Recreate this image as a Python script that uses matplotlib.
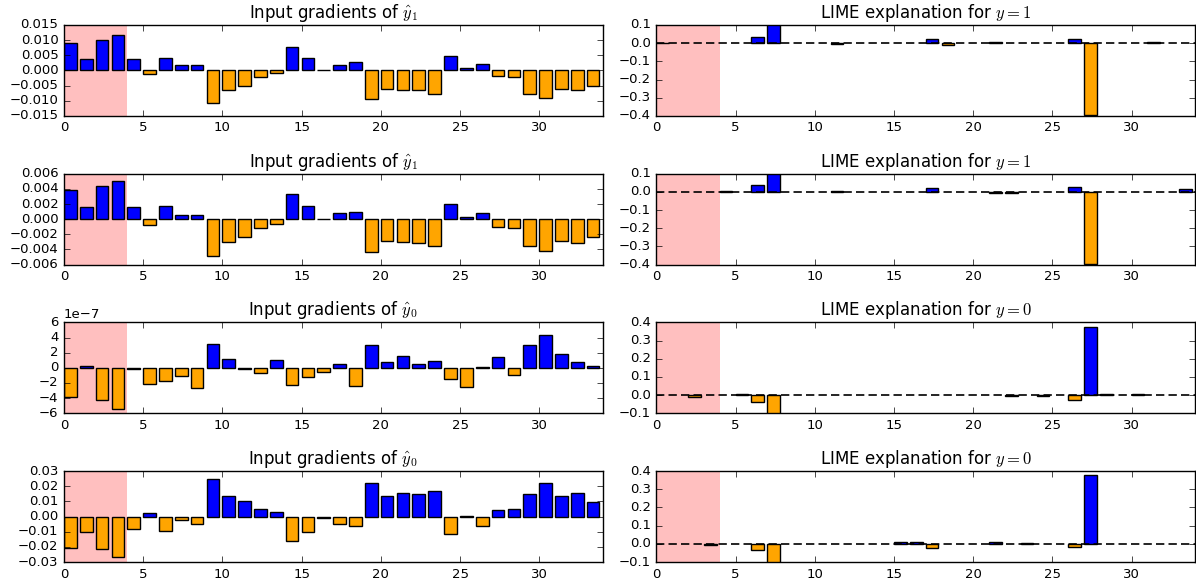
import numpy as np
import matplotlib
matplotlib.use('Agg')
import matplotlib.pyplot as plt

plt.style.use('classic')
plt.rcParams['mathtext.fontset'] = 'cm'
plt.rcParams['font.family'] = 'DejaVu Sans'

features = np.arange(34)

# input gradients, one list per left panel
grad_y1_a = [0.0089, 0.0037, 0.0099, 0.0117, 0.0037, -0.0013, 0.0040, 0.0017, 0.0017, -0.0108,
             -0.0063, -0.0050, -0.0023, -0.0010, 0.0076, 0.0040, 0.0001, 0.0017, 0.0027, -0.0094,
             -0.0060, -0.0064, -0.0064, -0.0078, 0.0049, 0.0008, 0.0022, -0.0020, -0.0023, -0.0078,
             -0.0092, -0.0060, -0.0066, -0.0051]
grad_y1_b = [0.0039, 0.0016, 0.0044, 0.0051, 0.0016, -0.0008, 0.0018, 0.0006, 0.0006, -0.0049,
             -0.0030, -0.0024, -0.0012, -0.0006, 0.0033, 0.0018, 0.00003, 0.0008, 0.0010, -0.0044,
             -0.0029, -0.0030, -0.0031, -0.0036, 0.0020, 0.0003, 0.0008, -0.0010, -0.0012, -0.0036,
             -0.0042, -0.0029, -0.0031, -0.0024]
grad_y0_a = [-3.9e-7, 0.2e-7, -4.2e-7, -5.5e-7, -0.2e-7, -2.1e-7, -1.7e-7, -1.1e-7, -2.6e-7, 3.2e-7,
             1.2e-7, -0.2e-7, -0.7e-7, 1.0e-7, -2.2e-7, -1.2e-7, -0.6e-7, 0.55e-7, -2.4e-7, 3.0e-7,
             0.8e-7, 1.6e-7, 0.55e-7, 0.9e-7, -1.5e-7, -2.5e-7, 0.15e-7, 1.4e-7, -1.0e-7, 3.0e-7,
             4.3e-7, 1.8e-7, 0.8e-7, 0.3e-7]
grad_y0_b = [-0.0209, -0.0102, -0.0216, -0.0264, -0.0082, 0.0022, -0.0093, -0.0020, -0.0047, 0.0251,
             0.0138, 0.0104, 0.0049, 0.0031, -0.0162, -0.0102, -0.0007, -0.0047, -0.0060, 0.0220,
             0.0138, 0.0153, 0.0147, 0.0171, -0.0113, 0.0004, -0.0060, 0.0042, 0.0049, 0.0147,
             0.0220, 0.0138, 0.0153, 0.0098]

# LIME weights (feature index -> weight, features not listed are zero)
lime_y1_a = {0: 0.003, 6: 0.036, 7: 0.12, 11: -0.004, 17: 0.025, 18: -0.011,
             21: 0.004, 26: 0.025, 27: -0.395, 31: 0.004}
lime_y1_b = {4: 0.004, 6: 0.04, 7: 0.12, 11: 0.004, 17: 0.019, 21: -0.008,
             22: -0.004, 26: 0.025, 27: -0.395, 33: 0.015}
lime_y0_a = {2: -0.012, 5: 0.004, 6: -0.039, 7: -0.11, 22: -0.004, 24: -0.005,
             26: -0.026, 27: 0.375, 28: 0.004, 30: 0.004}
lime_y0_b = {3: -0.004, 6: -0.034, 7: -0.11, 15: 0.011, 16: 0.011, 17: -0.022,
             21: 0.011, 23: 0.005, 26: -0.017, 27: 0.38}

grad_titles = [r'Input gradients of $\hat{y}_1$', r'Input gradients of $\hat{y}_1$',
               r'Input gradients of $\hat{y}_0$', r'Input gradients of $\hat{y}_0$']
lime_titles = [r'LIME explanation for $y=1$', r'LIME explanation for $y=1$',
               r'LIME explanation for $y=0$', r'LIME explanation for $y=0$']
grad_data = [grad_y1_a, grad_y1_b, grad_y0_a, grad_y0_b]
lime_data = [lime_y1_a, lime_y1_b, lime_y0_a, lime_y0_b]
grad_ylims = [(-0.015, 0.015), (-0.006, 0.006), (-6e-7, 6e-7), (-0.03, 0.03)]
lime_ylims = [(-0.4, 0.1), (-0.4, 0.1), (-0.1, 0.4), (-0.1, 0.4)]
grad_steps = [0.005, 0.002, 2e-7, 0.01]


def colors_for(vals):
    return ['blue' if v > 0 else 'orange' for v in vals]


fig, axes = plt.subplots(4, 2, figsize=(11.96, 5.84), facecolor='white')
plt.subplots_adjust(left=64/1196, right=1195/1196, top=1-25/584, bottom=1-562/584,
                    wspace=0.1, hspace=0.637)

for i in range(4):
    ax = axes[i, 0]
    vals = np.array(grad_data[i])
    ax.axvspan(0, 4, color='red', alpha=0.25, lw=0)
    ax.bar(features, vals, width=0.8, align='edge', color=colors_for(vals),
           edgecolor='black', linewidth=1)
    ax.set_xlim(0, 34)
    lo, hi = grad_ylims[i]
    ax.set_ylim(lo, hi)
    ax.set_yticks(np.arange(lo, hi + grad_steps[i] / 2, grad_steps[i]))
    ax.set_title(grad_titles[i], fontsize=12)
    ax.tick_params(labelsize=9.5)
    ax.yaxis.get_offset_text().set_fontsize(9.5)

    ax = axes[i, 1]
    idx = list(lime_data[i].keys())
    w = list(lime_data[i].values())
    ax.axvspan(0, 4, color='red', alpha=0.25, lw=0)
    ax.plot([0, 34], [0, 0], 'k--', dashes=(6, 3), lw=1.2)
    ax.bar(idx, w, width=0.8, align='edge', color=colors_for(w),
           edgecolor='black', linewidth=1)
    ax.set_xlim(0, 34)
    ax.set_ylim(*lime_ylims[i])
    ax.set_title(lime_titles[i], fontsize=12)
    ax.tick_params(labelsize=9.5)

plt.savefig('out.png', dpi=100, facecolor='white')
